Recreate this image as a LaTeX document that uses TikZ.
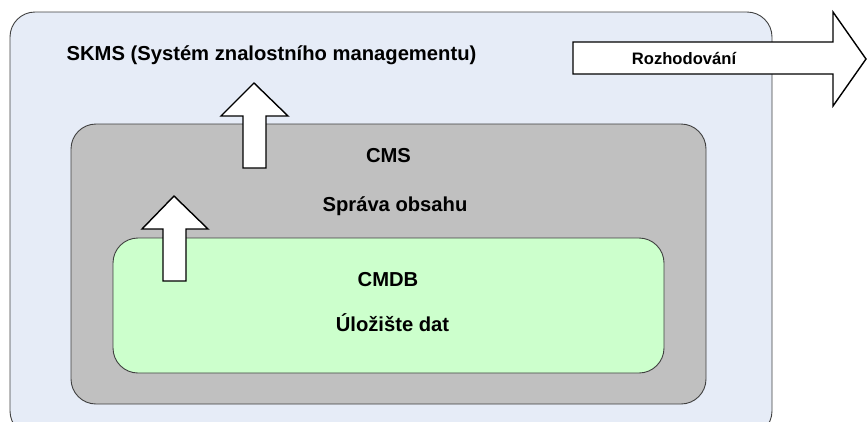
\documentclass[tikz,border=0pt]{standalone}
\usepackage{fontspec}
\setmainfont{Liberation Sans}
\begin{document}
\begin{tikzpicture}[x=1pt,y=-1pt,
  layer/.style={draw=black!75, line width=0.9pt, rounded corners=25pt},
  label/.style={font=\bfseries\fontsize{20.2}{23}\selectfont, anchor=base, inner sep=0pt},
  fatarrow/.style={draw=black, fill=white, line width=1.4pt, line join=miter}]
  \useasboundingbox (0,0) rectangle (867,421);
  % outer layer: knowledge management system
  \path[layer, fill={rgb,255:red,230;green,236;blue,247}] (10,12) rectangle (772,436);
  % middle layer: content management
  \path[layer, fill={rgb,255:red,192;green,192;blue,192}] (71,124) rectangle (706,404);
  % inner layer: data store
  \path[layer, fill={rgb,255:red,204;green,255;blue,204}] (113,238) rectangle (664,373);

  \node[label] (skms) at (271.5,60) {SKMS (Systém znalostního managementu)};
  \node[label] (cms) at (388.5,162) {CMS};
  \node[label] (sprava) at (395,211) {Správa obsahu};
  \node[label] (cmdb) at (388,286) {CMDB};
  \node[label] (uloziste) at (392.5,331) {Úložište dat};

  % upward arrows between the layers
  \draw[fatarrow] (243,168) -- (243,116) -- (221,116) -- (254,83) -- (288,116)
    -- (266,116) -- (266,168) -- cycle;
  \draw[fatarrow] (163,281) -- (163,229) -- (142,229) -- (174,196) -- (208,229)
    -- (186,229) -- (186,281) -- cycle;

  % decision arrow leaving the system
  \draw[fatarrow] (573,42) -- (833,42) -- (833,12) -- (866,59) -- (833,106)
    -- (833,74) -- (573,74) -- cycle;
  \node[label, font=\bfseries\fontsize{16.6}{19}\selectfont] (rozh) at (684,64) {Rozhodování};
\end{tikzpicture}
\end{document}
